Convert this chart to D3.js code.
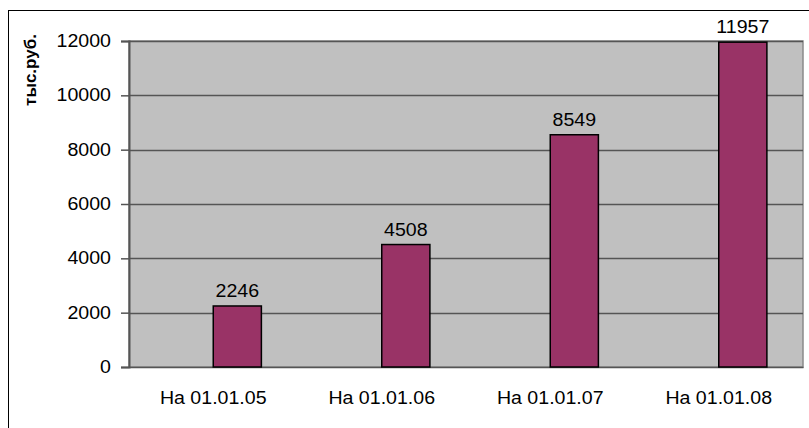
<!DOCTYPE html>
<html>
<head>
<meta charset="utf-8">
<script src="https://cdn.jsdelivr.net/npm/d3@7"></script>
<style>
  body { margin: 0; background: #fff; }
  text { font-family: "Liberation Sans", Arial, sans-serif; fill: #000; }
</style>
</head>
<body>
<svg id="chart" width="809" height="428"></svg>
<script>
var categories = ["На 01.01.05", "На 01.01.06", "На 01.01.07", "На 01.01.08"];
var values = [2246, 4508, 8549, 11957];
var yTicks = [0, 2000, 4000, 6000, 8000, 10000, 12000];
var yTitle = "тыс.руб.";

var width = 809, height = 428;
var margin = {left: 129, top: 41, right: 6, bottom: 61};
var svg = d3.select("#chart");

var x0 = d3.scaleBand().domain(categories).range([margin.left, width - margin.right]);
// the picture has an empty first series, the bar sits in the second slot
var x1 = d3.scaleBand().domain(["empty", "value"]).range([0, x0.bandwidth()]).paddingOuter(0.75);
var y = d3.scaleLinear().domain([0, 12000]).range([height - margin.bottom, margin.top]);

// outer frame
svg.append("rect").attr("x", 8.5).attr("y", 10.5).attr("width", 820).attr("height", 440)
  .attr("fill", "none").attr("stroke", "#000").attr("stroke-width", 1);

// plot area
svg.append("rect").attr("x", margin.left).attr("y", y(12000))
  .attr("width", width - margin.right - margin.left).attr("height", y(0) - y(12000))
  .attr("fill", "#c0c0c0").attr("stroke", "#8a8a8a").attr("stroke-width", 1.5);

svg.append("g").selectAll("line").data(yTicks.slice(1)).enter().append("line")
  .attr("x1", margin.left).attr("x2", width - margin.right)
  .attr("y1", function(d) { return Math.round(y(d)) + 0.5; })
  .attr("y2", function(d) { return Math.round(y(d)) + 0.5; })
  .attr("stroke", "#555").attr("stroke-width", 1.5);

var yAxis = d3.axisLeft(y).tickValues(yTicks).tickFormat(d3.format("d")).tickSize(8).tickPadding(10);
var gy = svg.append("g").attr("transform", "translate(" + margin.left + ",0)").call(yAxis);
gy.select(".domain").attr("stroke", "#555").attr("stroke-width", 2);
gy.selectAll(".tick line").attr("stroke", "#555").attr("stroke-width", 1.5);
gy.selectAll("text").attr("font-size", 17.5).attr("fill", "#000")
  .attr("font-family", "'Liberation Sans', Arial, sans-serif")
  .attr("transform", "scale(1.12,1)");
gy.selectAll(".tick text").attr("x", -18 / 1.12);

var xAxis = d3.axisBottom(x0).tickSize(0).tickPadding(25);
var gx = svg.append("g").attr("transform", "translate(0," + y(0) + ")").call(xAxis);
gx.select(".domain").attr("stroke", "#555").attr("stroke-width", 1.5);
gx.selectAll("text").attr("font-size", 17.5).attr("fill", "#000")
  .attr("font-family", "'Liberation Sans', Arial, sans-serif")
  .attr("transform", "scale(1.12,1)");

var bars = svg.append("g");
bars.selectAll("rect").data(values).enter().append("rect")
  .attr("x", function(d, i) { return x0(categories[i]) + x1("value"); })
  .attr("y", function(d) { return y(d); })
  .attr("width", x1.bandwidth())
  .attr("height", function(d) { return y(0) - y(d); })
  .attr("fill", "#993366").attr("stroke", "#000").attr("stroke-width", 1.5);

bars.selectAll("text").data(values).enter().append("text")
  .attr("transform", function(d, i) {
    var cx = x0(categories[i]) + x1("value") + x1.bandwidth() / 2;
    return "translate(" + cx + "," + (y(d) - 9) + ") scale(1.12,1)";
  })
  .attr("text-anchor", "middle").attr("font-size", 17.5)
  .text(function(d) { return d; });

svg.append("text")
  .attr("transform", "translate(36," + 70 + ") rotate(-90)")
  .attr("text-anchor", "middle").attr("font-size", 17).attr("font-weight", "bold")
  .text(yTitle);
</script>
</body>
</html>
